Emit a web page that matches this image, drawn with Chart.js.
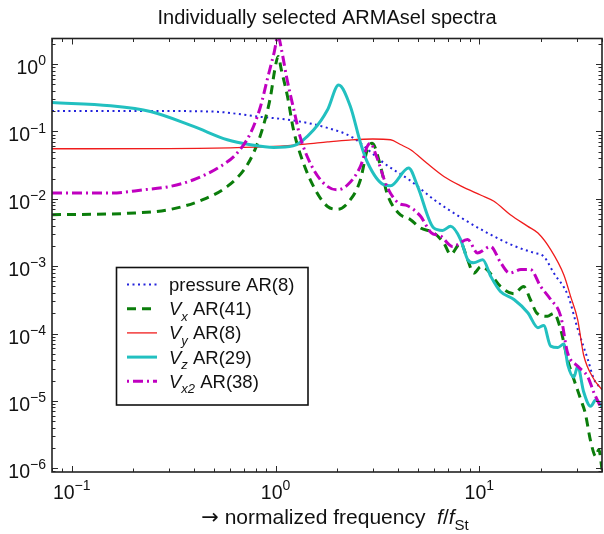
<!DOCTYPE html>
<html>
<head>
<meta charset="utf-8">
<title>ARMAsel spectra</title>
<script src="https://cdn.jsdelivr.net/npm/chart.js@4.4.1/dist/chart.umd.min.js"></script>
<style>
  html, body { margin: 0; padding: 0; background: #fff; }
  #wrap { width: 604px; height: 534px; }
</style>
</head>
<body>
<div id="wrap"><canvas id="c" width="604" height="534"></canvas></div>
<script>
// Normalized frequency f/fSt and spectral density for each selected model
const pressureFreq = [0.08, 0.2, 0.48, 0.84, 1.22, 1.8, 2.4, 2.9, 3.4, 4.6, 6.0, 8.1, 11.0, 14.8, 18.5, 20.7, 23.2, 27.2, 30.4, 34.1, 36.5, 40];
const pressurePsd  = [0.202, 0.202, 0.198, 0.165, 0.146, 0.113, 0.081, 0.051, 0.034, 0.0185, 0.0097, 0.0053, 0.0031, 0.0020, 0.00158, 0.0014, 0.00079, 0.00037, 0.000117, 0.000041, 0.000021, 0.000015];

const vxFreq = [0.08, 0.19, 0.3, 0.44, 0.58, 0.7, 0.78, 0.87, 0.945, 0.99, 1.03, 1.07, 1.145, 1.225, 1.37, 1.6, 1.8, 2.02, 2.33, 2.61, 2.82, 2.98, 3.28, 3.52, 4.0, 4.6, 5.15, 6.0, 6.7, 7.23, 8.1, 8.76, 9.4, 10.2, 10.9, 12.7, 14.8, 16.5, 17.8, 19.2, 21.6, 23.2, 25.1, 27.1, 29.1, 31.5, 33.1, 35.2, 37.3, 38.6, 40];
const vxPsd  = [0.0058, 0.0061, 0.0069, 0.0097, 0.0153, 0.027, 0.048, 0.119, 0.33, 0.8, 1.3, 0.8, 0.33, 0.106, 0.034, 0.0122, 0.0077, 0.0070, 0.0097, 0.0192, 0.0535, 0.067, 0.030, 0.0122, 0.0062, 0.0049, 0.0037, 0.0031, 0.0022, 0.0015, 0.0022, 0.00125, 0.00079, 0.00099, 0.00089, 0.00050, 0.00039, 0.00050, 0.00032, 0.00020, 0.00018, 0.00020, 0.000114, 0.000041, 0.000021, 0.0000104, 0.0000066, 0.0000025, 0.0000015, 0.0000019, 0.00000096];

const vyFreq = [0.08, 0.3, 0.6, 0.98, 1.4, 1.8, 2.3, 3.0, 3.67, 4.1, 4.6, 5.5, 6.7, 8.1, 10.2, 11.8, 14.2, 17.3, 19.4, 22.4, 26.0, 28.1, 30.4, 32.5, 36.5, 40];
const vyPsd  = [0.0554, 0.0556, 0.0572, 0.0601, 0.065, 0.070, 0.0745, 0.0773, 0.0753, 0.064, 0.0535, 0.0343, 0.0215, 0.0156, 0.0113, 0.0092, 0.0058, 0.0039, 0.0031, 0.00176, 0.00074, 0.00035, 0.00016, 0.000048, 0.000021, 0.0000147];

const vzFreq = [0.08, 0.155, 0.243, 0.396, 0.58, 0.754, 0.98, 1.22, 1.54, 1.8, 2.04, 2.33, 2.61, 2.83, 3.39, 3.67, 4.5, 4.98, 5.97, 6.6, 7.23, 8.1, 8.77, 9.38, 10.4, 11.4, 12.7, 14.8, 17.3, 19.4, 20.7, 22.4, 24.3, 26.0, 27.2, 29.1, 30.4, 32.5, 35.2, 37.3, 40];
const vzPsd  = [0.269, 0.241, 0.198, 0.119, 0.0753, 0.0635, 0.058, 0.0611, 0.106, 0.21, 0.49, 0.235, 0.068, 0.0343, 0.0162, 0.0156, 0.0286, 0.0153, 0.0037, 0.0034, 0.0039, 0.00247, 0.00125, 0.00112, 0.00125, 0.00070, 0.00042, 0.00032, 0.000204, 0.000122, 0.000132, 0.000065, 0.000062, 0.000070, 0.000034, 0.0000225, 0.0000327, 0.0000137, 0.0000083, 0.0000104, 0.0000083];

const vx2Freq = [0.08, 0.155, 0.225, 0.305, 0.396, 0.537, 0.648, 0.754, 0.844, 0.91, 0.983, 1.03, 1.07, 1.14, 1.23, 1.32, 1.48, 1.72, 2.0, 2.26, 2.61, 2.82, 2.92, 3.13, 3.52, 4.0, 4.44, 5.15, 5.8, 6.46, 7.4, 8.76, 9.8, 11.36, 12.74, 14.1, 16.0, 17.8, 20.0, 22.4, 25.1, 27.1, 30.3, 34.0, 36.6, 40];
const vx2Psd  = [0.0122, 0.0122, 0.0136, 0.0153, 0.0192, 0.0303, 0.0478, 0.0947, 0.235, 0.585, 1.46, 2.6, 1.63, 0.585, 0.21, 0.084, 0.0339, 0.0171, 0.0136, 0.0162, 0.0303, 0.060, 0.067, 0.0426, 0.0153, 0.0087, 0.0079, 0.0055, 0.00315, 0.0028, 0.00196, 0.0025, 0.00157, 0.00196, 0.00112, 0.00079, 0.00089, 0.00089, 0.00050, 0.00032, 0.00018, 0.000052, 0.000033, 0.000023, 0.000013, 0.0000074];

// Decade exponents that get a 10^n label on each axis
const xDecades = [-1, 0, 1];
const yDecades = [-6, -5, -4, -3, -2, -1, 0];

// Legend entries: plain or italic segments, with subscripts
const legendEntries = [
  [{ t: 'pressure AR(8)' }],
  [{ t: 'V', i: 1 }, { t: 'x', i: 1, sub: 1 }, { t: ' AR(41)' }],
  [{ t: 'V', i: 1 }, { t: 'y', i: 1, sub: 1 }, { t: ' AR(8)' }],
  [{ t: 'V', i: 1 }, { t: 'z', i: 1, sub: 1 }, { t: ' AR(29)' }],
  [{ t: 'V', i: 1 }, { t: 'x2', i: 1, sub: 1 }, { t: ' AR(38)' }]
];
const xTitle = [{ t: '\u2192', f: '"DejaVu Sans", sans-serif' }, { t: ' normalized frequency  ' }, { t: 'f', i: 1 }, { t: '/' }, { t: 'f', i: 1 }, { t: 'St', sub: 1 }];

const FONT = '"Liberation Sans", Arial, Helvetica, sans-serif';

function points(fs, ps) {
  return fs.map((f, k) => ({ x: f, y: ps[k] }));
}

// Draw a run of text segments (italic / sub / sup) starting at x or centred/right-aligned on it
function drawRich(ctx, parts, x, y, size, align) {
  const small = Math.round(size * 0.72);
  const segs = parts.map(p => {
    const s = (p.sub || p.sup) ? small : size;
    const font = (p.i ? 'italic ' : '') + s + 'px ' + (p.f || FONT);
    ctx.font = font;
    return { t: p.t, font, w: ctx.measureText(p.t).width, dy: p.sub ? size * 0.3 : (p.sup ? -size * 0.45 : 0) };
  });
  const total = segs.reduce((a, s) => a + s.w, 0);
  let cx = align === 'center' ? x - total / 2 : (align === 'right' ? x - total : x);
  ctx.textAlign = 'left';
  ctx.textBaseline = 'alphabetic';
  for (const s of segs) {
    ctx.font = s.font;
    ctx.fillText(s.t, cx, y + s.dy);
    cx += s.w;
  }
}

function powLabel(n) {
  return [{ t: '10' }, { t: (n < 0 ? '\u2212' : '') + Math.abs(n), sup: 1 }];
}

const frameAndLabels = {
  id: 'frameAndLabels',
  afterDraw(chart) {
    const ctx = chart.ctx;
    const { left, right, top, bottom } = chart.chartArea;
    const xs = chart.scales.x, ys = chart.scales.y;
    ctx.save();

    // inward tick marks on all four sides
    ctx.strokeStyle = '#2a2a2a';
    ctx.lineWidth = 1;
    ctx.beginPath();
    for (let n = Math.floor(Math.log10(xs.min)); n <= Math.ceil(Math.log10(xs.max)); n++) {
      for (let k = 1; k <= 9; k++) {
        const v = k * Math.pow(10, n);
        if (v < xs.min * 0.999 || v > xs.max * 1.001) continue;
        const p = Math.round(xs.getPixelForValue(v)) + 0.5;
        const L = k === 1 ? 6 : 3.5;
        ctx.moveTo(p, bottom); ctx.lineTo(p, bottom - L);
        ctx.moveTo(p, top); ctx.lineTo(p, top + L);
      }
    }
    for (let n = Math.floor(Math.log10(ys.min)); n <= Math.ceil(Math.log10(ys.max)); n++) {
      for (let k = 1; k <= 9; k++) {
        const v = k * Math.pow(10, n);
        if (v < ys.min * 0.999 || v > ys.max * 1.001) continue;
        const p = Math.round(ys.getPixelForValue(v)) + 0.5;
        const L = k === 1 ? 6 : 3.5;
        ctx.moveTo(left, p); ctx.lineTo(left + L, p);
        ctx.moveTo(right, p); ctx.lineTo(right - L, p);
      }
    }
    ctx.stroke();

    // axes box
    ctx.lineWidth = 1.6;
    ctx.strokeStyle = '#222';
    ctx.strokeRect(left, top, right - left, bottom - top);

    // decade labels
    ctx.fillStyle = '#111';
    for (const n of xDecades) {
      drawRich(ctx, powLabel(n), xs.getPixelForValue(Math.pow(10, n)), bottom + 27, 19.5, 'center');
    }
    for (const n of yDecades) {
      drawRich(ctx, powLabel(n), left - 6, ys.getPixelForValue(Math.pow(10, n)) + 10, 19.5, 'right');
    }

    // x-axis title
    drawRich(ctx, xTitle, (left + right) / 2 + 8, bottom + 52, 21, 'center');

    // legend
    const bx = 116.5, by = 267.5, bw = 191.5, bh = 137.5;
    ctx.fillStyle = '#fff';
    ctx.fillRect(bx, by, bw, bh);
    ctx.lineWidth = 1.6;
    ctx.strokeStyle = '#111';
    ctx.strokeRect(bx, by, bw, bh);
    chart.data.datasets.forEach((ds, k) => {
      const base = 291 + k * 24.2;
      const ly = base - 6.5;
      ctx.save();
      ctx.strokeStyle = ds.borderColor;
      ctx.lineWidth = ds.borderWidth;
      ctx.setLineDash(ds.borderDash || []);
      ctx.lineDashOffset = ds.legendDashOffset || 0;
      ctx.beginPath();
      ctx.moveTo(127, ly);
      ctx.lineTo(157, ly);
      ctx.stroke();
      ctx.restore();
      ctx.fillStyle = '#111';
      drawRich(ctx, legendEntries[k], 169, base, 18.5, 'left');
    });
    ctx.restore();
  }
};

new Chart(document.getElementById('c'), {
  type: 'line',
  data: {
    datasets: [
      { label: 'pressure AR(8)', data: points(pressureFreq, pressurePsd), borderColor: '#2323dc', borderWidth: 2, borderDash: [2, 3.5], order: 5 },
      { label: 'Vx AR(41)', data: points(vxFreq, vxPsd), borderColor: '#0b7d0b', borderWidth: 3, borderDash: [9, 6], order: 4 },
      { label: 'Vy AR(8)', data: points(vyFreq, vyPsd), borderColor: '#f01c1c', borderWidth: 1.3, order: 3 },
      { label: 'Vz AR(29)', data: points(vzFreq, vzPsd), borderColor: '#22c0c0', borderWidth: 3, order: 2 },
      { label: 'Vx2 AR(38)', data: points(vx2Freq, vx2Psd), borderColor: '#c000c0', borderWidth: 3, borderDash: [10, 4, 2, 4], legendDashOffset: 14, order: 1 }
    ]
  },
  options: {
    responsive: false,
    animation: false,
    devicePixelRatio: 1,
    layout: { padding: { left: 52, right: 2, top: 0, bottom: 62 } },
    elements: {
      point: { radius: 0, hoverRadius: 0 },
      line: { cubicInterpolationMode: 'monotone', fill: false }
    },
    plugins: {
      legend: { display: false },
      tooltip: { enabled: false },
      title: {
        display: true,
        text: 'Individually selected ARMAsel spectra',
        fullSize: false,
        color: '#111',
        font: { family: FONT, size: 20, weight: 'normal' },
        padding: { top: 6, bottom: 8.5 }
      }
    },
    scales: {
      x: { type: 'logarithmic', min: 0.08, max: 40, display: false },
      y: { type: 'logarithmic', min: 8.8e-7, max: 2.4, display: false }
    }
  },
  plugins: [frameAndLabels]
});
</script>
</body>
</html>
